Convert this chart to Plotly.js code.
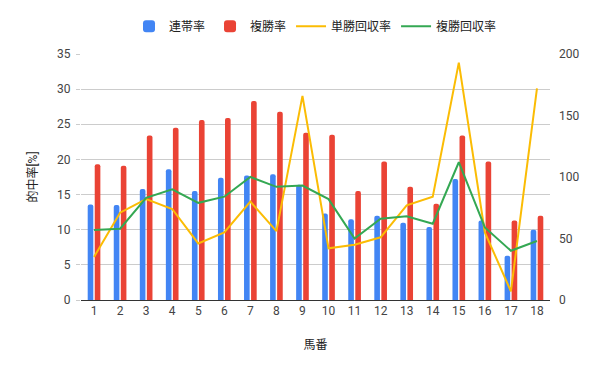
<!DOCTYPE html>
<html>
<head>
<meta charset="utf-8">
<script src="https://cdn.plot.ly/plotly-3.0.1.min.js"></script>
<style>html,body{margin:0;padding:0;background:#fff;}#chart{width:600px;height:371px;}</style>
</head>
<body>
<div id="chart"></div>
<script>
const umaban = ['1','2','3','4','5','6','7','8','9','10','11','12','13','14','15','16','17','18'];
const rentaiRate = [13.6,13.5,15.8,18.6,15.5,17.4,17.7,17.9,16.4,12.3,11.5,12.0,11.0,10.4,17.2,11.3,6.3,10.0];
const fukushoRate = [19.3,19.1,23.4,24.5,25.6,25.9,28.3,26.8,23.8,23.5,15.5,19.7,16.1,13.7,23.4,19.7,11.3,12.0];
const tanshoReturn = [35,71,82,74,46,55,80,56,166,42,45,51,77,84,193,55,7,172];
const fukushoReturn = [57,58,83,90,79,84,100,92,93,82,50,66,68,62,112,59,40,48];

const font = "Roboto, 'Noto Sans CJK JP', Arial, sans-serif";

const traces = [
  {type:'bar', name:'連帯率', x:umaban, y:rentaiRate, marker:{color:'#4285F4', cornerradius:2}, yaxis:'y'},
  {type:'bar', name:'複勝率', x:umaban, y:fukushoRate, marker:{color:'#EA4335', cornerradius:2}, yaxis:'y'},
  {type:'scatter', mode:'lines', name:'単勝回収率', x:umaban, y:tanshoReturn, line:{color:'#FBBC04', width:2}, yaxis:'y2'},
  {type:'scatter', mode:'lines', name:'複勝回収率', x:umaban, y:fukushoReturn, line:{color:'#34A853', width:2}, yaxis:'y2'}
];

const layout = {
  width:600, height:371,
  margin:{l:81, r:50, t:52, b:71},
  paper_bgcolor:'#fff', plot_bgcolor:'#fff',
  font:{family:font, size:12, color:'#444'},
  barmode:'group', bargap:0.46, bargroupgap:0.2,
  showlegend:true,
  legend:{orientation:'h', x:0.5, xanchor:'center', y:1.113, yanchor:'middle', itemwidth:30, font:{size:12, color:'#222'}, traceorder:'normal'},
  xaxis:{type:'category', showgrid:false, showline:true, linecolor:'#333', linewidth:1, ticks:'', tickfont:{size:12, color:'#444'},
         title:{text:'馬番', font:{size:12, color:'#222'}, standoff:23}},
  yaxis:{range:[0,35], dtick:5, showgrid:true, gridcolor:'#ccc', zeroline:false, showline:false,
         ticks:'outside', ticklen:4, tickcolor:'#ccc', ticklabelstandoff:3, tickfont:{size:12, color:'#444'},
         title:{text:'的中率[%]', font:{size:12, color:'#222'}, standoff:16}},
  yaxis2:{overlaying:'y', side:'right', range:[0,200], dtick:50, showgrid:false, zeroline:false, showline:false, ticks:'',
          ticklabelstandoff:8, tickfont:{size:12, color:'#444'}}
};

Plotly.newPlot('chart', traces, layout, {displayModeBar:false, staticPlot:true});
</script>
</body>
</html>
